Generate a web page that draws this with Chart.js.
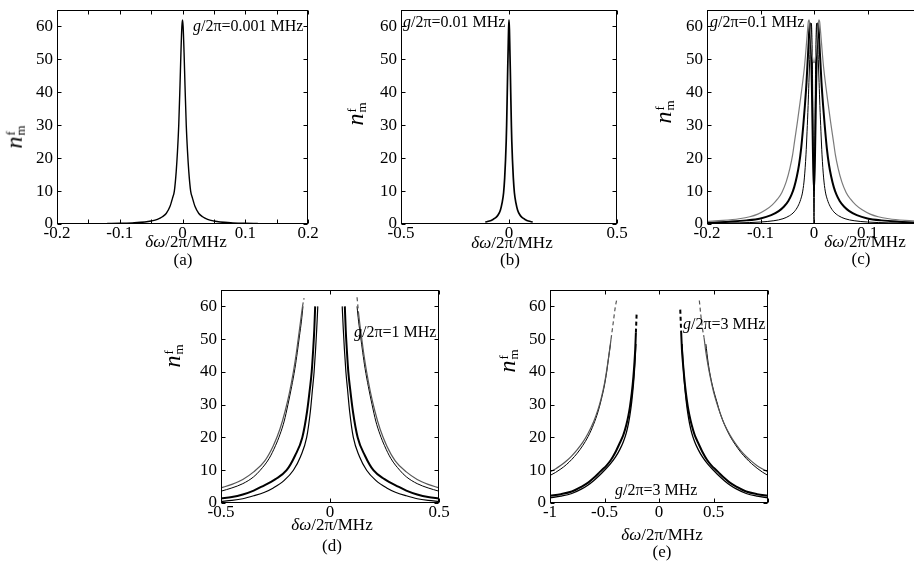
<!DOCTYPE html>
<html>
<head>
<meta charset="utf-8">
<script src="https://cdn.jsdelivr.net/npm/chart.js@4.4.1/dist/chart.umd.min.js"></script>
<style>
  html, body { margin: 0; padding: 0; width: 914px; height: 568px; overflow: hidden; background: #fff; }
  body { position: relative; font-family: "Liberation Serif", "Times New Roman", serif; color: #000; }
  canvas { position: absolute; }
  .t { position: absolute; white-space: nowrap; line-height: 1; }
  .ann { font-size: 16px; transform: translateY(-50%); }
  .xt { font-size: 17px; transform: translate(-50%, -50%); }
  .pl { font-size: 17px; transform: translate(-50%, -50%); }
  .yl { font-size: 24px; transform: translate(-50%, -50%) rotate(-90deg); }
  .fm { display: inline-block; font-size: 13px; line-height: 10px; vertical-align: middle; margin-left: 1px; text-align: left; }
</style>
</head>
<body>
<canvas id="pa"></canvas>
<canvas id="pb"></canvas>
<canvas id="pc"></canvas>
<canvas id="pd"></canvas>
<canvas id="pe"></canvas>

<div class="t ann" style="left:193px;top:26px"><i>g</i>/2π=0.001 MHz</div>
<div class="t ann" style="left:403px;top:22px"><i>g</i>/2π=0.01 MHz</div>
<div class="t ann" style="left:710px;top:22px"><i>g</i>/2π=0.1 MHz</div>
<div class="t ann" style="left:354px;top:332px"><i>g</i>/2π=1 MHz</div>
<div class="t ann" style="left:683px;top:324px"><i>g</i>/2π=3 MHz</div>
<div class="t ann" style="left:615px;top:490px"><i>g</i>/2π=3 MHz</div>

<div class="t xt" style="left:186px;top:241px"><i>δω</i>/2π/MHz</div>
<div class="t xt" style="left:512px;top:242px"><i>δω</i>/2π/MHz</div>
<div class="t xt" style="left:865px;top:241px"><i>δω</i>/2π/MHz</div>
<div class="t xt" style="left:332px;top:524px"><i>δω</i>/2π/MHz</div>
<div class="t xt" style="left:662px;top:534px"><i>δω</i>/2π/MHz</div>

<div class="t pl" style="left:183px;top:259px">(a)</div>
<div class="t pl" style="left:510px;top:259px">(b)</div>
<div class="t pl" style="left:861px;top:258px">(c)</div>
<div class="t pl" style="left:332px;top:545px">(d)</div>
<div class="t pl" style="left:662px;top:551px">(e)</div>

<div class="t yl" style="left:14px;top:137px"><i>n</i><span class="fm">f<br>m</span></div>
<div class="t yl" style="left:355px;top:114px"><i>n</i><span class="fm">f<br>m</span></div>
<div class="t yl" style="left:663px;top:112px"><i>n</i><span class="fm">f<br>m</span></div>
<div class="t yl" style="left:172px;top:356px"><i>n</i><span class="fm">f<br>m</span></div>
<div class="t yl" style="left:507px;top:361px"><i>n</i><span class="fm">f<br>m</span></div>

<script>
// (a) g/2pi = 0.001 MHz
const aX = [-0.12,-0.1,-0.08,-0.06,-0.05,-0.04,-0.032,-0.026,-0.02,-0.016,-0.013,-0.01,-0.008,-0.006,-0.004,-0.0025,-0.001,0,0.001,0.0025,0.004,0.006,0.008,0.01,0.013,0.016,0.02,0.026,0.032,0.04,0.05,0.06,0.08,0.1,0.12];
const aY = [0.16,0.22,0.35,0.6,0.9,1.4,2.2,3.2,5.3,7.8,10,16,22,30,42,52,60,62,60,52,42,30,22,16,10,7.8,5.3,3.2,2.2,1.4,0.9,0.6,0.35,0.22,0.16];

// (b) g/2pi = 0.01 MHz
const bX = [-0.11,-0.09,-0.074,-0.06,-0.05,-0.04,-0.032,-0.025,-0.02,-0.016,-0.013,-0.011,-0.008,-0.006,-0.004,-0.002,0,0.002,0.004,0.006,0.008,0.011,0.013,0.016,0.02,0.025,0.032,0.04,0.05,0.06,0.074,0.09,0.11];
const bY = [0.6,0.9,1.4,2.0,2.8,4.2,6.4,9.5,14,19.5,25,30,40,47,53,59,62,59,53,47,40,30,25,19.5,14,9.5,6.4,4.2,2.8,2.0,1.4,0.9,0.6];

// (c) g/2pi = 0.1 MHz : outer (grey), middle (thick), inner (thin)
const c1X = [-0.2,-0.17,-0.14,-0.12,-0.105,-0.09,-0.078,-0.068,-0.06,-0.052,-0.045,-0.04,-0.036,-0.031,-0.026,-0.022,-0.018,-0.015,-0.0125,-0.0105,-0.009,-0.006,-0.003,0,0.003,0.006,0.009,0.0105,0.0125,0.015,0.018,0.022,0.026,0.031,0.036,0.04,0.045,0.052,0.06,0.068,0.078,0.09,0.105,0.12,0.14,0.17,0.2];
const c1Y = [0.8,1.1,1.6,2.2,3,4.3,5.8,7.6,9.6,12.8,17,21,25.5,31,37,42,47.5,53,58,61.5,62,57,51,49,51,57,62,61.5,58,53,47.5,42,37,31,25.5,21,17,12.8,9.6,7.6,5.8,4.3,3,2.2,1.6,1.1,0.8];
const c2X = [-0.2,-0.16,-0.126,-0.1,-0.08,-0.066,-0.056,-0.048,-0.042,-0.037,-0.032,-0.028,-0.024,-0.02,-0.017,-0.014,-0.012,-0.01,-0.008,-0.0065,-0.004,-0.002,0,0.002,0.004,0.0065,0.008,0.01,0.012,0.014,0.017,0.02,0.024,0.028,0.032,0.037,0.042,0.048,0.056,0.066,0.08,0.1,0.126,0.16,0.2];
const c2Y = [0.4,0.7,1.1,1.7,2.7,3.9,5.3,7,8.9,11.2,14.5,18,23,30,36,43,49,55,61,60,42,22,10,22,42,60,61,55,49,43,36,30,23,18,14.5,11.2,8.9,7,5.3,3.9,2.7,1.7,1.1,0.7,0.4];
const c3X = [-0.2,-0.14,-0.1,-0.075,-0.058,-0.046,-0.037,-0.03,-0.025,-0.021,-0.018,-0.015,-0.013,-0.011,-0.0095,-0.008,-0.0068,-0.0058,-0.005,-0.003,-0.0015,0,0.0015,0.003,0.005,0.0058,0.0068,0.008,0.0095,0.011,0.013,0.015,0.018,0.021,0.025,0.03,0.037,0.046,0.058,0.075,0.1,0.14,0.2];
const c3Y = [0.2,0.35,0.6,1.0,1.6,2.5,3.7,5.4,7.4,10,14,21,28,36,43,50,56,60,61,48,22,0,22,48,61,60,56,50,43,36,28,21,14,10,7.4,5.4,3.7,2.5,1.6,1.0,0.6,0.35,0.2];

// (d) g/2pi = 1 MHz : outer pair A/B, inner pair C/D (null = gap at centre)
const dAX = [-0.5,-0.45,-0.4,-0.35,-0.3,-0.26,-0.23,-0.206,-0.185,-0.168,-0.155,-0.145,-0.135,-0.126,-0.119,0,0.124,0.131,0.138,0.145,0.155,0.168,0.185,0.206,0.23,0.26,0.3,0.35,0.4,0.45,0.5];
const dAY = [4.6,5.7,7.2,9.5,12.8,17.5,22.5,28,34,40,45.5,50.5,55.5,60,62.5,null,62.8,58,54,50.5,45.5,40,34,28,22.5,17.5,12.8,9.5,7.2,5.7,4.6];
const dBX = [-0.5,-0.45,-0.4,-0.35,-0.32,-0.28,-0.25,-0.229,-0.21,-0.193,-0.176,-0.161,-0.15,-0.14,-0.131,-0.124,0,0.124,0.131,0.14,0.15,0.161,0.176,0.193,0.21,0.229,0.25,0.28,0.32,0.35,0.4,0.45,0.5];
const dBY = [3.6,4.6,5.9,8,10,13.5,17.5,21,25,30,35.5,41,46,51,55.5,60,null,60,55.5,51,46,41,35.5,30,25,21,17.5,13.5,10,8,5.9,4.6,3.6];
const dCX = [-0.5,-0.45,-0.4,-0.35,-0.313,-0.25,-0.199,-0.16,-0.127,-0.105,-0.092,-0.084,-0.077,-0.072,-0.068,0,0.068,0.072,0.077,0.084,0.092,0.105,0.127,0.16,0.199,0.25,0.313,0.35,0.4,0.45,0.5];
const dCY = [1.4,1.8,2.6,3.8,5,7.3,10,14.5,20,28,35,40,47,53,60,null,60,53,47,40,35,28,20,14.5,10,7.3,5,3.8,2.6,1.8,1.4];
const dDX = [-0.5,-0.45,-0.4,-0.35,-0.3,-0.26,-0.21,-0.168,-0.135,-0.107,-0.09,-0.08,-0.073,-0.066,-0.061,-0.056,0,0.056,0.061,0.066,0.073,0.08,0.09,0.107,0.135,0.168,0.21,0.26,0.3,0.35,0.4,0.45,0.5];
const dDY = [0.5,0.8,1.3,2.2,3.3,4.6,6.9,10,14.2,20,28,35,40,47,53,60,null,60,53,47,40,35,28,20,14.2,10,6.9,4.6,3.3,2.2,1.3,0.8,0.5];

// (e) g/2pi = 3 MHz : outer pair E/F, inner pair G/H
const eEX = [-1,-0.95,-0.9,-0.85,-0.8,-0.75,-0.7,-0.65,-0.6,-0.56,-0.53,-0.5,-0.48,-0.46,-0.44,-0.42,-0.4,-0.388,0,0.37,0.385,0.4,0.413,0.43,0.45,0.47,0.5,0.53,0.56,0.6,0.65,0.7,0.75,0.8,0.85,0.9,0.95,1];
const eEY = [9.5,10.4,11.5,12.8,14.4,16.3,18.5,21.3,24.8,28.5,32,36.5,40.5,45,50,55,60,62,null,61.8,57,53,50.5,46,42,38.5,34,30.5,27.5,24,20.8,18.2,16,14.2,12.7,11.4,10.4,9.5];
const eFX = [-1,-0.95,-0.9,-0.85,-0.8,-0.75,-0.7,-0.65,-0.6,-0.56,-0.53,-0.5,-0.48,-0.46,-0.445,0,0.43,0.45,0.47,0.5,0.53,0.56,0.6,0.65,0.7,0.75,0.8,0.85,0.9,0.95,1];
const eFY = [8.4,9.3,10.4,11.7,13.3,15.2,17.5,20.3,24,27.8,31.5,36,40,45,48.5,null,48.5,43,39,34.5,31,27.5,24,20.5,17.8,15.5,13.6,12,10.6,9.4,8.4];
const eGX = [-1,-0.9,-0.8,-0.709,-0.65,-0.6,-0.55,-0.526,-0.48,-0.44,-0.4,-0.36,-0.327,-0.3,-0.28,-0.266,-0.25,-0.235,-0.225,-0.218,-0.212,-0.205,0,0.195,0.203,0.21,0.219,0.231,0.247,0.264,0.279,0.3,0.327,0.36,0.4,0.44,0.48,0.526,0.55,0.6,0.65,0.709,0.8,0.9,1];
const eGY = [2.2,2.7,3.5,5,6.2,7.6,9.2,10,11.5,13.2,15.5,18.3,20.8,23.8,26.8,29.5,33.5,38.5,43,47,52,58,null,59,52.5,47,43,38.5,33.5,29.5,26.8,23.8,20.8,18.3,15.5,13.2,11.5,10,9.2,7.6,6.2,5,3.5,2.7,2.2];
const eHX = [-1,-0.9,-0.8,-0.709,-0.65,-0.6,-0.55,-0.5,-0.45,-0.4,-0.36,-0.327,-0.3,-0.28,-0.266,-0.25,-0.235,-0.225,-0.218,-0.212,0,0.212,0.218,0.225,0.235,0.25,0.266,0.28,0.3,0.327,0.36,0.4,0.45,0.5,0.55,0.6,0.65,0.709,0.8,0.9,1];
const eHY = [1.6,2.1,2.9,4.3,5.5,6.8,8.3,10,11.8,14,16.3,18.7,21.4,24.3,27,31,36,40.5,44.5,48.5,null,48.5,44.5,40.5,36,31,27,24.3,21.4,18.7,16.3,14,11.8,10,8.3,6.8,5.5,4.3,2.9,2.1,1.6];

const yTicks = [0, 10, 20, 30, 40, 50, 60];

const FONT = '"Liberation Serif", "Times New Roman", serif';

function pts(xs, ys) {
  return xs.map((x, i) => ({ x: x, y: ys[i] }));
}

function fmtTick(v) {
  const r = Math.round(v * 1000) / 1000;
  return r === 0 ? '0' : String(r);
}

// box frame + inward tick marks, matlab style
const frameTicks = {
  id: 'frameTicks',
  afterDatasetsDraw(chart) {
    const { ctx, chartArea: a, scales } = chart;
    const L = Math.round(a.left) + 0.5, R = Math.round(a.right) - 0.5;
    const T = Math.round(a.top) + 0.5, B = Math.round(a.bottom) - 0.5;
    ctx.save();
    ctx.strokeStyle = '#000';
    ctx.lineWidth = 1;
    ctx.setLineDash([]);
    ctx.strokeRect(L, T, R - L, B - T);
    ctx.beginPath();
    scales.x.ticks.forEach(t => {
      const px = Math.round(scales.x.getPixelForValue(t.value)) + 0.5;
      ctx.moveTo(px, B); ctx.lineTo(px, B - 4);
      ctx.moveTo(px, T); ctx.lineTo(px, T + 4);
    });
    scales.y.ticks.forEach(t => {
      const py = Math.round(scales.y.getPixelForValue(t.value)) + 0.5;
      ctx.moveTo(L, py); ctx.lineTo(L + 4, py);
      ctx.moveTo(R, py); ctx.lineTo(R - 4, py);
    });
    ctx.stroke();
    ctx.restore();
  }
};

function panel(id, box, xr, sets) {
  const cv = document.getElementById(id);
  const W = box.r - box.l + 72, H = box.b - box.t + 34;
  cv.width = W; cv.height = H;
  cv.style.left = (box.l - 50) + 'px';
  cv.style.top = (box.t - 8) + 'px';
  cv.style.width = W + 'px';
  cv.style.height = H + 'px';

  new Chart(cv, {
    type: 'line',
    data: {
      datasets: sets.map(s => ({
        data: pts(s.xs, s.ys),
        borderColor: s.color,
        borderWidth: s.width,
        pointRadius: 0,
        fill: false,
        spanGaps: false,
        cubicInterpolationMode: 'monotone',
        segment: {
          borderDash: c => (s.dash != null && c.p0.parsed.y >= s.dash && c.p1.parsed.y >= s.dash) ? [4, 3] : undefined
        }
      }))
    },
    options: {
      responsive: false,
      animation: false,
      devicePixelRatio: 1,
      layout: { padding: { left: 0, top: 8, right: 22, bottom: 0 } },
      plugins: { legend: { display: false }, tooltip: { enabled: false } },
      scales: {
        x: {
          type: 'linear', min: xr.min, max: xr.max,
          grid: { display: false, drawTicks: false },
          border: { display: false },
          ticks: {
            stepSize: xr.step, autoSkip: false, maxRotation: 0, includeBounds: false,
            padding: 1, color: '#000', font: { family: FONT, size: 17, lineHeight: 1 },
            callback: v => xr.hide(v) ? '' : fmtTick(v)
          },
          afterFit: sc => { sc.height = 26; sc.paddingLeft = 0; sc.paddingRight = 0; }
        },
        y: {
          min: 0, max: 65,
          grid: { display: false, drawTicks: false },
          border: { display: false },
          afterBuildTicks: sc => { sc.ticks = yTicks.map(v => ({ value: v })); },
          ticks: {
            padding: 4, color: '#000', font: { family: FONT, size: 17, lineHeight: 1 },
            callback: v => String(v)
          },
          afterFit: sc => { sc.width = 50; sc.paddingTop = 0; sc.paddingBottom = 0; }
        }
      }
    },
    plugins: [frameTicks]
  });
}

const GREY = '#7a7a7a';

panel('pa', { l: 57, t: 10, r: 308, b: 224 },
  { min: -0.2, max: 0.2, step: 0.05, hide: v => Math.abs(Math.round(v * 20)) % 2 === 1 },
  [{ xs: aX, ys: aY, color: '#000', width: 1.4 }]);

panel('pb', { l: 401, t: 10, r: 617, b: 224 },
  { min: -0.5, max: 0.5, step: 0.5, hide: v => false },
  [{ xs: bX, ys: bY, color: '#000', width: 1.7 }]);

panel('pc', { l: 707, t: 10, r: 921, b: 224 },
  { min: -0.2, max: 0.2, step: 0.1, hide: v => v > 0.15 },
  [{ xs: c1X, ys: c1Y, color: GREY, width: 1.2 },
   { xs: c2X, ys: c2Y, color: '#000', width: 2 },
   { xs: c3X, ys: c3Y, color: '#000', width: 1 }]);

panel('pd', { l: 221, t: 290, r: 439, b: 503 },
  { min: -0.5, max: 0.5, step: 0.5, hide: v => false },
  [{ xs: dAX, ys: dAY, color: '#555', width: 1.2, dash: 58 },
   { xs: dBX, ys: dBY, color: '#000', width: 1 },
   { xs: dCX, ys: dCY, color: '#000', width: 2 },
   { xs: dDX, ys: dDY, color: '#000', width: 1.2 }]);

panel('pe', { l: 550, t: 290, r: 768, b: 503 },
  { min: -1, max: 1, step: 0.5, hide: v => v > 0.75 },
  [{ xs: eEX, ys: eEY, color: '#555', width: 1.2, dash: 48 },
   { xs: eFX, ys: eFY, color: '#000', width: 1 },
   { xs: eGX, ys: eGY, color: '#000', width: 2, dash: 49 },
   { xs: eHX, ys: eHY, color: '#000', width: 1.3 }]);
</script>
</body>
</html>
